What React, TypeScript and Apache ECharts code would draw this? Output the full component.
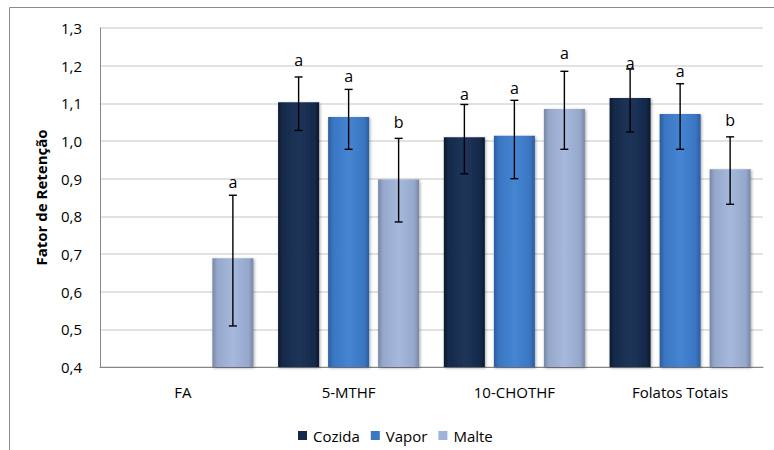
import React, { useEffect, useRef } from "react";
import * as echarts from "echarts";

const categories = ["FA", "5-MTHF", "10-CHOTHF", "Folatos Totais"];
const seriesNames = ["Cozida", "Vapor", "Malte"];

const cozida = [null, 1.103, 1.01, 1.114];
const vapor = [null, 1.064, 1.014, 1.072];
const malte = [0.689, 0.898, 1.085, 0.925];

const cozidaHi = [null, 1.17, 1.097, 1.191];
const cozidaLo = [null, 1.028, 0.913, 1.024];
const vaporHi = [null, 1.137, 1.108, 1.152];
const vaporLo = [null, 0.978, 0.9, 0.978];
const malteHi = [0.856, 1.007, 1.185, 1.011];
const malteLo = [0.509, 0.785, 0.978, 0.832];

const cozidaLetters = [null, "a", "a", "a"];
const vaporLetters = [null, "a", "a", "a"];
const malteLetters = ["a", "b", "a", "b"];

const cozidaLetterAt = [null, 1.215, 1.125, 1.208];
const vaporLetterAt = [null, 1.172, 1.141, 1.186];
const malteLetterAt = [0.891, 1.05, 1.234, 1.056];

const yTicks = { min: 0.4, max: 1.3, step: 0.1 };

const FONT = "'Open Sans', 'Noto Sans', sans-serif";
const BAR_W = 41;
const BAR_GAP = 9;

function grad(edge: string, mid: string, light: string) {
  return new echarts.graphic.LinearGradient(1, 0, 0, 0, [
    { offset: 0, color: edge },
    { offset: 0.12, color: mid },
    { offset: 0.5, color: light },
    { offset: 0.88, color: mid },
    { offset: 1, color: edge },
  ]);
}

export default function App() {
  const ref = useRef<HTMLDivElement>(null);
  useEffect(() => {
    document.body.style.margin = "0";
    const chart = echarts.init(ref.current!, null, { renderer: "svg" });
    const colors = [
      grad("#0d1a30", "#162a4a", "#1d3459"),
      grad("#2c5c9c", "#3a76c2", "#4585d2"),
      grad("#7886a4", "#95a8cc", "#a6b9dd"),
    ];
    const solid = ["#17294a", "#3b78c4", "#9fb3d8"];
    const vals = [cozida, vapor, malte];
    const his = [cozidaHi, vaporHi, malteHi];
    const los = [cozidaLo, vaporLo, malteLo];
    const letters = [cozidaLetters, vaporLetters, malteLetters];
    const letterAt = [cozidaLetterAt, vaporLetterAt, malteLetterAt];

    const errData: any[] = [];
    const errLetters: string[] = [];
    for (let s = 0; s < 3; s++) {
      for (let c = 0; c < categories.length; c++) {
        if (his[s][c] == null) continue;
        errData.push([c, s, his[s][c], los[s][c], letterAt[s][c]]);
        errLetters.push(letters[s][c] as string);
      }
    }

    const barSeries = seriesNames.map((name, s) => ({
      name,
      type: "bar",
      data: vals[s].map((v) => (v == null ? "-" : v)),
      barWidth: BAR_W,
      barGap: ((BAR_GAP / BAR_W) * 100).toFixed(1) + "%",
      itemStyle: {
        color: colors[s],
        shadowBlur: 3,
        shadowColor: "rgba(0,0,0,0.35)",
        shadowOffsetX: 1,
        shadowOffsetY: 1,
      },
      emphasis: { disabled: true },
    }));

    chart.setOption({
      animation: false,
      textStyle: { fontFamily: FONT },
      graphic: [
        {
          type: "rect",
          shape: { x: 9.5, y: 7.5, width: 900, height: 600 },
          style: { fill: "none", stroke: "#8c8c8c", lineWidth: 1 },
          silent: true,
        },
      ],
      grid: { left: 100, right: 11, top: 28, bottom: 83 },
      legend: {
        data: seriesNames.map((n, i) => ({
          name: n,
          itemStyle: { color: solid[i] },
        })),
        left: 293,
        top: 423,
        icon: "rect",
        itemWidth: 9,
        itemHeight: 9,
        itemGap: 11,
        textStyle: { fontSize: 15, color: "#000", fontFamily: FONT, padding: [0, 0, 0, 1] },
      },
      xAxis: {
        type: "category",
        data: categories,
        axisLine: { lineStyle: { color: "#868686", width: 1 } },
        axisTick: { show: false },
        axisLabel: { fontSize: 15, color: "#000", margin: 17, fontFamily: FONT },
      },
      yAxis: {
        type: "value",
        min: yTicks.min,
        max: yTicks.max,
        interval: yTicks.step,
        name: "Fator de Retenção",
        nameLocation: "middle",
        nameGap: 52,
        nameTextStyle: { fontSize: 15, fontWeight: "bold", color: "#000", fontFamily: FONT },
        axisLine: { show: true, lineStyle: { color: "#868686", width: 1 } },
        axisTick: { show: false },
        splitLine: { lineStyle: { color: "#d9d9d9", width: 1.5 } },
        axisLabel: {
          fontSize: 15,
          color: "#000",
          margin: 18,
          fontFamily: FONT,
          formatter: (v: number) => v.toFixed(1).replace(".", ","),
        },
      },
      series: [
        ...barSeries,
        {
          type: "custom",
          name: "err",
          data: errData,
          z: 10,
          silent: true,
          renderItem: (params: any, api: any) => {
            const c = api.value(0);
            const s = api.value(1);
            const off = (s - 1) * (BAR_W + BAR_GAP);
            const top = api.coord([c, api.value(2)]);
            const bot = api.coord([c, api.value(3)]);
            const lab = api.coord([c, api.value(4)]);
            const x = top[0] + off;
            const cw = 4;
            const ls = { stroke: "#000", lineWidth: 1.4 };
            return {
              type: "group",
              children: [
                { type: "line", shape: { x1: x, y1: top[1], x2: x, y2: bot[1] }, style: ls },
                { type: "line", shape: { x1: x - cw, y1: top[1], x2: x + cw, y2: top[1] }, style: ls },
                { type: "line", shape: { x1: x - cw, y1: bot[1], x2: x + cw, y2: bot[1] }, style: ls },
                {
                  type: "text",
                  x,
                  y: lab[1],
                  style: {
                    text: errLetters[params.dataIndex],
                    fontSize: 16,
                    fontFamily: FONT,
                    fill: "#000",
                    align: "center",
                    verticalAlign: "middle",
                  },
                },
              ],
            };
          },
        },
      ],
    });
    return () => chart.dispose();
  }, []);
  return <div ref={ref} style={{ width: 774, height: 450 }} />;
}
